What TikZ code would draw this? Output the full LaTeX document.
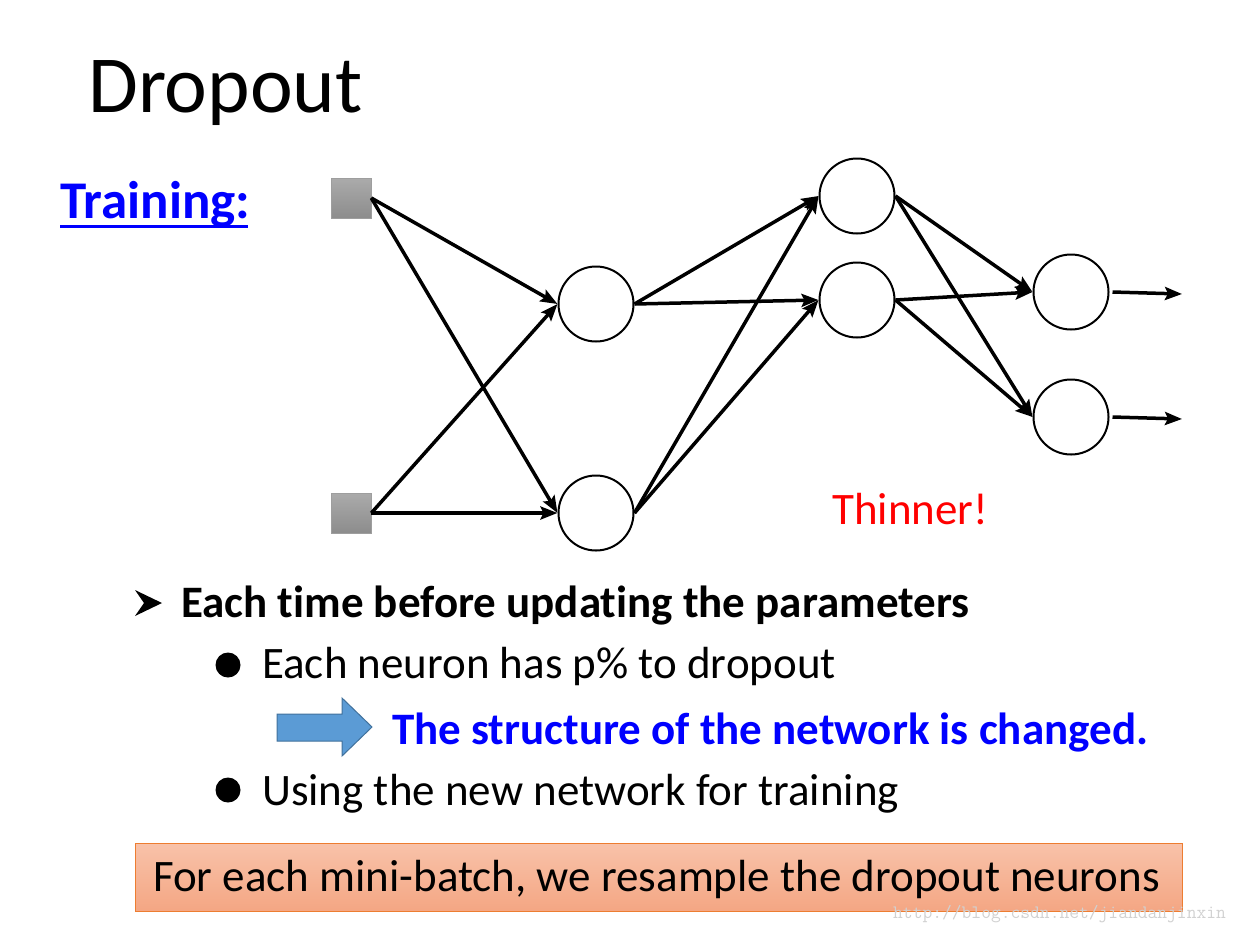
\documentclass[tikz,border=0pt]{standalone}
\usepackage{fontspec}
\setmainfont{Carlito}[Ligatures={NoCommon,NoRare,NoContextual}]
\usetikzlibrary{arrows.meta}
\definecolor{arrblue}{HTML}{5B9BD5}
\definecolor{arrblueline}{HTML}{41719C}
\definecolor{boxtop}{HTML}{F8C2A9}
\definecolor{boxbot}{HTML}{F4A683}
\definecolor{boxline}{HTML}{ED7D31}
\tikzset{
  neuron/.style={circle,draw,line width=2pt,minimum size=75pt,inner sep=0pt,fill=white},
  inp/.style={rectangle,minimum width=40pt,minimum height=40pt,inner sep=0pt,top color=black!33,bottom color=black!45,draw=black!38,line width=0.6pt},
  edge/.style={line width=3.5pt,-{Stealth[length=17pt,width=13pt,inset=3pt]}},
  txt/.style={anchor=base west,inner sep=0pt,font=\fontsize{45}{54}\selectfont},
}
\begin{document}
\begin{tikzpicture}[x=1pt,y=-1pt]
\useasboundingbox (0,0) rectangle (1244,930);
% title
\node[anchor=base west,inner sep=0pt,font=\fontsize{81}{97}\selectfont] (title) at (88,112) {Dropout};
\node[anchor=base west,inner sep=0pt,text=blue,font=\fontsize{53}{64}\bfseries\selectfont] (train) at (60,218) {Training:};
\draw[blue,line width=2.2pt] (60,226.5) -- (248,226.5);
% network
\node[inp] (i1) at (351,198) {};
\node[inp] (i2) at (351,513) {};
\node[neuron] (a1) at (596,304) {};
\node[neuron] (a2) at (596,513) {};
\node[neuron] (b1) at (857,196) {};
\node[neuron] (b2) at (857,300) {};
\node[neuron] (c1) at (1071,292) {};
\node[neuron] (c2) at (1071,417) {};
\coordinate (o1) at (1182,294);
\coordinate (o2) at (1182,419);
\draw[edge] (i1.east) -- (a1.west);
\draw[edge] (i1.east) -- (a2.west);
\draw[edge] (i2.east) -- (a1.west);
\draw[edge] (i2.east) -- (a2.west);
\draw[edge] (a1.east) -- (b1.west);
\draw[edge] (a1.east) -- (b2.west);
\draw[edge] (a2.east) -- (b1.west);
\draw[edge] (a2.east) -- (b2.west);
\draw[edge] (b1.east) -- (c1.west);
\draw[edge] (b1.east) -- (c2.west);
\draw[edge] (b2.east) -- (c1.west);
\draw[edge] (b2.east) -- (c2.west);
\draw[edge] ([xshift=3pt]c1.east) -- (o1);
\draw[edge] ([xshift=3pt]c2.east) -- (o2);
\node[txt,text=red] (thin) at (832,524) {Thinner!};
% bullets
\fill[black] (135,590) -- (162,603) -- (135,616) -- (144,603) -- cycle;
\node[txt,font=\fontsize{45}{54}\bfseries\selectfont] (l1) at (181,617) {Each time before updating the parameters};
\fill (228,665) circle (12.5);
\node[txt] (l2) at (262,678) {Each neuron has p\% to dropout};
\filldraw[fill=arrblue,draw=arrblueline,line width=1pt] (277,714) -- (342,714) -- (342,698) -- (372,727) -- (342,756) -- (342,741) -- (277,741) -- cycle;
\node[txt,text=blue,font=\fontsize{45}{54}\bfseries\selectfont] (l3) at (392,744) {The structure of the network is changed.};
\fill (228,790) circle (12.5);
\node[txt] (l4) at (262,805) {Using the new network for training};
% box
\node[anchor=north west,minimum width=1047pt,minimum height=68pt,inner sep=0pt,top color=boxtop,bottom color=boxbot,draw=boxline,line width=1.2pt] (box) at (135,843) {};
\node[txt] (boxt) at (153,891) {For each mini-batch, we resample the dropout neurons};
\node[anchor=base west,inner sep=0pt,text=black!18,font=\ttfamily\fontsize{19}{21}\selectfont] (wm) at (893,918) {http://blog.csdn.net/jiandanjinxin};
\end{tikzpicture}
\end{document}
